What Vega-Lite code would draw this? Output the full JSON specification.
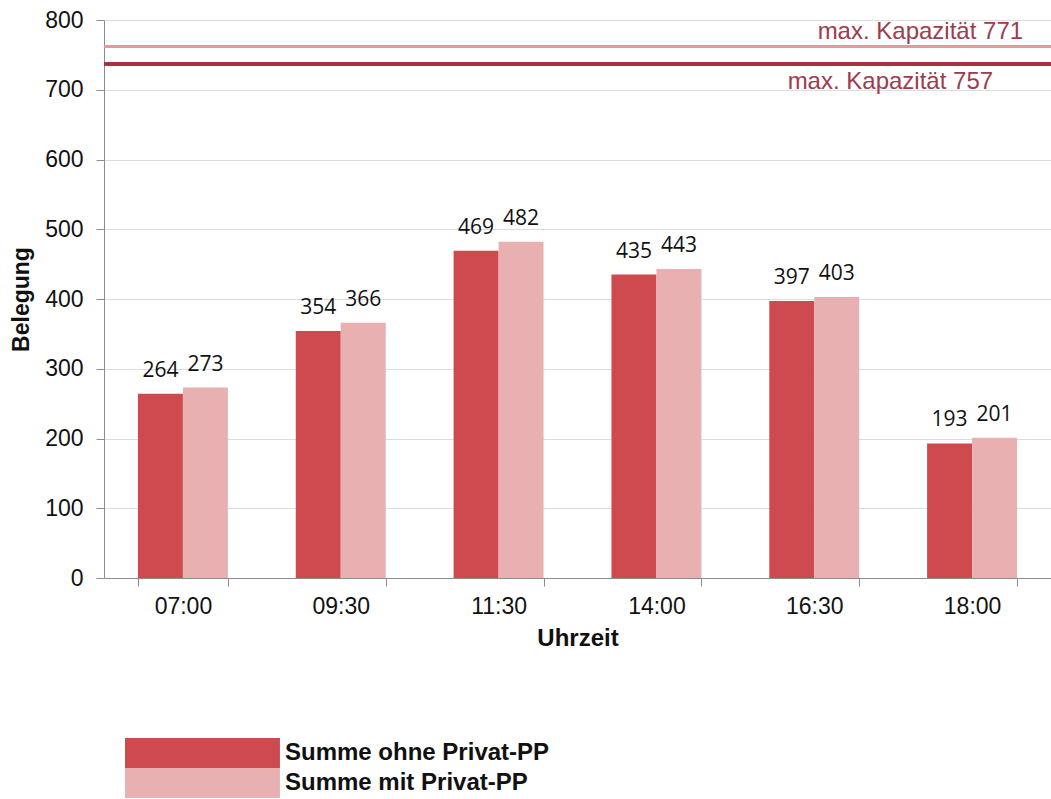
{
  "$schema": "https://vega.github.io/schema/vega-lite/v6.json",
  "width": 947,
  "height": 558,
  "autosize": "none",
  "padding": {"left": 104, "top": 20, "right": 0, "bottom": 221},
  "background": "white",
  "config": {
    "view": {"stroke": null},
    "font": "Liberation Sans",
    "axis": {"labelColor": "#111", "titleColor": "#111"}
  },
  "datasets": {
    "belegung": [
      {"uhrzeit": "07:00", "serie": "Summe ohne Privat-PP", "wert": 264},
      {"uhrzeit": "07:00", "serie": "Summe mit Privat-PP", "wert": 273},
      {"uhrzeit": "09:30", "serie": "Summe ohne Privat-PP", "wert": 354},
      {"uhrzeit": "09:30", "serie": "Summe mit Privat-PP", "wert": 366},
      {"uhrzeit": "11:30", "serie": "Summe ohne Privat-PP", "wert": 469},
      {"uhrzeit": "11:30", "serie": "Summe mit Privat-PP", "wert": 482},
      {"uhrzeit": "14:00", "serie": "Summe ohne Privat-PP", "wert": 435},
      {"uhrzeit": "14:00", "serie": "Summe mit Privat-PP", "wert": 443},
      {"uhrzeit": "16:30", "serie": "Summe ohne Privat-PP", "wert": 397},
      {"uhrzeit": "16:30", "serie": "Summe mit Privat-PP", "wert": 403},
      {"uhrzeit": "18:00", "serie": "Summe ohne Privat-PP", "wert": 193},
      {"uhrzeit": "18:00", "serie": "Summe mit Privat-PP", "wert": 201}
    ],
    "kapazitaet": [
      {"label": "max. Kapazität 771", "linie": 762},
      {"label": "max. Kapazität 757", "linie": 737}
    ]
  },
  "layer": [
    {
      "data": {"name": "belegung"},
      "mark": {"type": "bar"},
      "encoding": {
        "x": {
          "field": "uhrzeit", "type": "nominal", "sort": null,
          "scale": {"paddingInner": 0.43, "paddingOuter": 0.215},
          "axis": {
            "title": "Uhrzeit", "labelAngle": 0, "tickBand": "extent",
            "domainColor": "#8c8c8c", "tickColor": "#8c8c8c", "tickSize": 8,
            "labelFontSize": 23, "labelPadding": 9,
            "titleFontSize": 24, "titleFontWeight": "bold", "titlePadding": 8
          }
        },
        "xOffset": {"field": "serie", "sort": ["Summe ohne Privat-PP", "Summe mit Privat-PP"]},
        "y": {
          "field": "wert", "type": "quantitative",
          "scale": {"domain": [0, 800]},
          "axis": {
            "title": "Belegung", "values": [0, 100, 200, 300, 400, 500, 600, 700, 800],
            "domainColor": "#8c8c8c", "tickColor": "#8c8c8c", "tickSize": 8,
            "gridColor": "#dcdcdc", "labelFontSize": 23, "labelPadding": 13,
            "titleFontSize": 23, "titleFontWeight": "bold", "titlePadding": 11
          }
        },
        "fill": {
          "field": "serie", "type": "nominal",
          "scale": {"domain": ["Summe ohne Privat-PP", "Summe mit Privat-PP"], "range": ["#cf4a4f", "#e9b0b1"]},
          "legend": {
            "orient": "none", "legendX": 21, "legendY": 718, "title": null,
            "padding": 0, "rowPadding": 0,
            "symbolType": "M-1,-1H9.33V1H-1Z", "symbolSize": 900, "symbolStrokeWidth": 0, "symbolOpacity": 1,
            "labelFontSize": 24, "labelFontWeight": "bold", "labelOffset": 130, "labelLimit": 500, "labelColor": "#111"
          }
        }
      }
    },
    {
      "data": {"name": "belegung"},
      "mark": {"type": "text", "font": "Open Sans", "fontSize": 21, "baseline": "alphabetic", "dy": -17, "color": "#111"},
      "encoding": {
        "x": {"field": "uhrzeit", "type": "nominal", "sort": null},
        "xOffset": {"field": "serie", "sort": ["Summe ohne Privat-PP", "Summe mit Privat-PP"]},
        "y": {"field": "wert", "type": "quantitative"},
        "text": {"field": "wert", "type": "quantitative"}
      }
    },
    {
      "data": {"name": "kapazitaet"},
      "mark": {"type": "rule"},
      "encoding": {
        "y": {"field": "linie", "type": "quantitative"},
        "stroke": {"field": "label", "type": "nominal", "scale": {"domain": ["max. Kapazität 771", "max. Kapazität 757"], "range": ["#e39a9c", "#a8323f"]}, "legend": null},
        "strokeWidth": {"field": "label", "type": "nominal", "scale": {"domain": ["max. Kapazität 771", "max. Kapazität 757"], "range": [3, 4]}, "legend": null}
      }
    },
    {
      "data": {"name": "kapazitaet"},
      "transform": [{"filter": "datum.label === 'max. Kapazität 771'"}],
      "mark": {"type": "text", "align": "right", "baseline": "alphabetic", "dx": 51, "dy": -8, "fontSize": 24, "color": "#9e3b4e"},
      "encoding": {
        "x": {"datum": "18:00", "type": "nominal"},
        "y": {"field": "linie", "type": "quantitative"},
        "text": {"field": "label"}
      }
    },
    {
      "data": {"name": "kapazitaet"},
      "transform": [{"filter": "datum.label === 'max. Kapazität 757'"}],
      "mark": {"type": "text", "align": "right", "baseline": "alphabetic", "dx": 21, "dy": 25, "fontSize": 24, "color": "#9e3b4e"},
      "encoding": {
        "x": {"datum": "18:00", "type": "nominal"},
        "y": {"field": "linie", "type": "quantitative"},
        "text": {"field": "label"}
      }
    }
  ]
}
